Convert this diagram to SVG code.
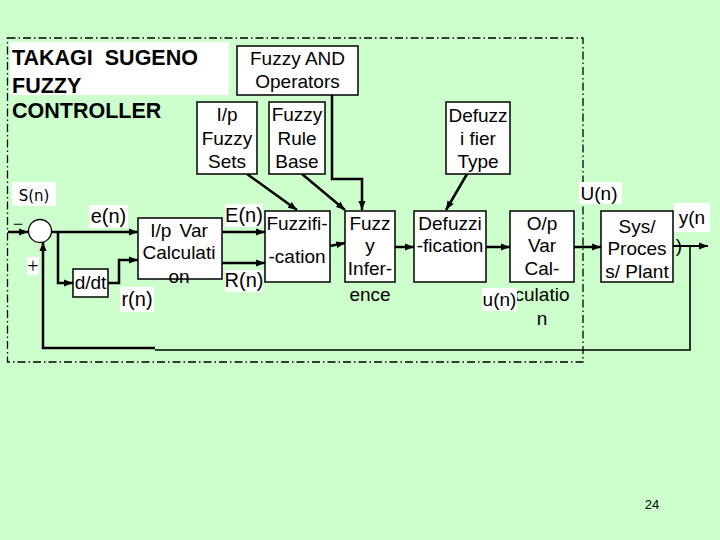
<svg xmlns="http://www.w3.org/2000/svg" width="720" height="540" viewBox="0 0 720 540">
<defs>
<marker id="ah" markerUnits="userSpaceOnUse" markerWidth="10" markerHeight="8" refX="9" refY="4" orient="auto">
<path d="M0,0.5 L9,4 L0,7.5 Z" fill="#000"/>
</marker>
<style>
text{font-family:"Liberation Sans",Arial,sans-serif;font-size:19px;fill:#000;text-anchor:middle}
.box{fill:#fff;stroke:#000;stroke-width:1.5}
.lbl{fill:#fff;stroke:none}
.c{fill:none;stroke:#000;stroke-width:2.5;marker-end:url(#ah)}
.cn{fill:none;stroke:#000;stroke-width:2.5}
.l{text-anchor:start}
.t{font-weight:bold;font-size:21.5px}
</style>
</defs>
<rect x="0" y="0" width="720" height="540" fill="#ccffcc"/>
<rect x="7.5" y="38" width="575.5" height="324" fill="none" stroke="#000" stroke-width="1.3" stroke-dasharray="8,3,1.5,3"/>

<g id="title">
<rect class="lbl" x="10" y="42" width="219" height="53"/>
<text class="l t" x="12" y="65" xml:space="preserve">TAKAGI  SUGENO</text>
<text class="l t" x="12" y="93">FUZZY</text>
<text class="l t" x="12" y="118">CONTROLLER</text>
</g>

<g id="connectors">
<path class="c" d="M8,232 H28"/>
<path class="c" d="M51,232 H138"/>
<path class="c" d="M58,232 V283 H73"/>
<path class="c" d="M108,283 H119 V260 H138"/>
<path class="c" d="M222,232 H265"/>
<path class="c" d="M222,263 H265"/>
<path class="c" d="M330,246 L345,243"/>
<path class="c" d="M247,174 L297,210"/>
<path class="c" d="M302,174 L345,210"/>
<path class="c" d="M332,95 V179 H362 V210"/>
<path class="c" d="M467,174 L446,210"/>
<path class="c" d="M395,247 H414"/>
<path class="c" d="M486,247 H510"/>
<path class="c" d="M574,247 H601"/>
<path class="c" d="M673,246 H708" style="stroke-width:2"/>
<path class="cn" d="M690,246 V350 H155" style="stroke-width:1.6"/>
<path class="c" d="M155,348 H43 V242"/>
</g>

<g id="sum">
<circle cx="40" cy="231" r="11.5" fill="#fff" stroke="#000" stroke-width="1.3"/>
<text x="18" y="230" style="font-family:'Liberation Serif',serif;font-size:18px">−</text>
<rect class="lbl" x="27" y="257" width="12" height="18"/>
<text x="33" y="273" style="font-family:'Liberation Serif',serif;font-size:20px">+</text>
</g>

<g id="s_label">
<rect class="lbl" x="12" y="182" width="44" height="24"/>
<text x="34" y="201" style="font-family:'DejaVu Sans',sans-serif;font-size:15px">S(n)</text>
</g>

<g id="fuzzy_and">
<rect class="box" x="237" y="46" width="121" height="49"/>
<text x="297.5" y="65">Fuzzy AND</text>
<text x="297.5" y="88">Operators</text>
</g>

<g id="ip_fuzzy_sets">
<rect class="box" x="197" y="102" width="60" height="72"/>
<text x="227" y="121">I/p</text>
<text x="227" y="145">Fuzzy</text>
<text x="227" y="168">Sets</text>
</g>

<g id="rule_base">
<rect class="box" x="269" y="102" width="56" height="72"/>
<text x="297" y="121">Fuzzy</text>
<text x="297" y="145">Rule</text>
<text x="297" y="168">Base</text>
</g>

<g id="defuzz_type">
<rect class="box" x="446" y="102" width="64" height="72"/>
<text x="478" y="122">Defuzz</text>
<text x="478" y="145">i fier</text>
<text x="478" y="168">Type</text>
</g>

<g id="ip_var">
<rect class="box" x="138" y="218" width="84" height="61"/>
<text x="179" y="237" style="word-spacing:3px">I/p Var</text>
<text x="179" y="259">Calculati</text>
<text x="179" y="283">on</text>
</g>

<g id="ddt">
<rect class="box" x="73" y="269" width="35" height="28"/>
<text x="90.5" y="289">d/dt</text>
</g>

<g id="fuzzification">
<rect class="box" x="265" y="211" width="65" height="71"/>
<text x="297" y="230">Fuzzifi-</text>
<text x="297" y="263">-cation</text>
</g>

<g id="inference">
<rect class="box" x="345" y="211" width="50" height="71"/>
<text x="370" y="230">Fuzz</text>
<text x="370" y="252">y</text>
<text x="370" y="275">Infer-</text>
<text x="370" y="301">ence</text>
</g>

<g id="defuzzification">
<rect class="box" x="414" y="211" width="72" height="71"/>
<text x="450" y="230">Defuzzi</text>
<text x="450" y="252">-fication</text>
</g>

<g id="op_var">
<rect class="box" x="510" y="211" width="64" height="71"/>
<text x="542" y="230">O/p</text>
<text x="542" y="252">Var</text>
<text x="542" y="275">Cal-</text>
<text x="542" y="301">culatio</text>
<text x="542" y="325">n</text>
</g>

<g id="plant">
<rect class="box" x="601" y="211" width="72" height="71"/>
<text x="637" y="233">Sys/</text>
<text x="637" y="255">Proces</text>
<text x="637" y="278">s/ Plant</text>
</g>

<g id="labels">
<rect class="lbl" x="89" y="205" width="39" height="23"/>
<text x="108.5" y="223" style="font-size:20px">e(n)</text>
<rect class="lbl" x="120" y="287" width="34" height="25"/>
<text x="137" y="306" style="font-size:20px">r(n)</text>
<rect class="lbl" x="225" y="204" width="38" height="23"/>
<text x="244" y="222" style="font-size:20px">E(n)</text>
<rect class="lbl" x="225" y="270" width="38" height="22"/>
<text x="244" y="287" style="font-size:20px">R(n)</text>
<rect class="lbl" x="482" y="288" width="35" height="23"/>
<text x="499.5" y="306">u(n)</text>
<rect class="lbl" x="579" y="182" width="43" height="22"/>
<text x="599" y="200">U(n)</text>
<rect class="lbl" x="674" y="203" width="36" height="29"/>
<text x="692" y="224">y(n</text>
<text x="679" y="252">)</text>
</g>

<text x="652" y="509" style="font-size:13px">24</text>
</svg>
